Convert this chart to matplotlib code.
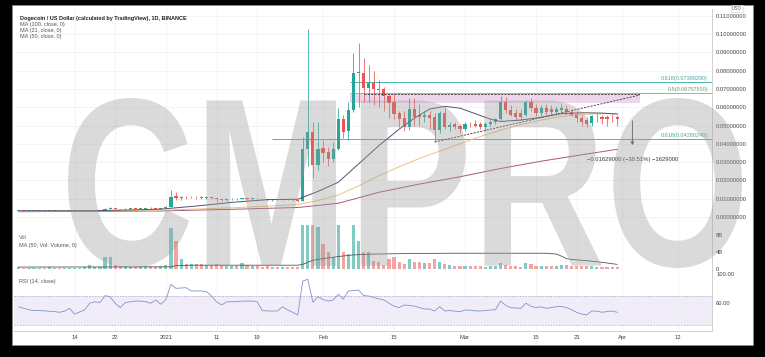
import matplotlib
matplotlib.use("Agg")
import matplotlib.pyplot as plt
from matplotlib.patches import Rectangle, PathPatch
from matplotlib.textpath import TextPath
from matplotlib.font_manager import FontProperties
from matplotlib.transforms import Affine2D

plt.rcParams['font.family'] = ['Liberation Sans', 'DejaVu Sans']

# daily candles, day 0 = 3 Dec 2020 ... day 118 = 31 Mar 2021
opens = [
    .0034, .0034, .0033, .0034, .0034, .0034, .0033, .0033, .0033, .0032,   # Dec 3-12
    .0033, .0034, .0034, .0034, .0035, .0038, .0038, .0039, .0045, .0048,   # Dec 13-22
    .0045, .0042, .0045, .0046, .0045, .0046, .0049, .0047, .0046, .0047,   # Dec 23 - Jan 1
    .0057, .0116, .0106, .0110, .0108, .0111, .0109, .0106, .0108, .0103,   # Jan 2-11
    .0096, .0093, .0098, .0101, .0098, .0102, .0100, .0101, .0098, .0097,   # Jan 12-21
    .0092, .0095, .0094, .0096, .0093, .0092, .0087, .0372, .0462, .0284,   # Jan 22-31
    .0377, .0355, .0317, .0372, .0535, .0470, .0585, .0787, .0787, .0705,   # Feb 1-10
    .0732, .0700, .0700, .0660, .0628, .0568, .0540, .0490, .0590, .0557,   # Feb 11-20
    .0546, .0557, .0546, .0475, .0568, .0490, .0508, .0500, .0480, .0508,   # Feb 21 - Mar 2
    .0508, .0508, .0492, .0508, .0520, .0535, .0628, .0585, .0566, .0566,   # Mar 3-12
    .0557, .0628, .0595, .0568, .0595, .0590, .0575, .0585, .0590, .0574,   # Mar 13-22
    .0563, .0540, .0530, .0514, .0546, .0546, .0545, .0546, .0546,          # Mar 23-31
]
highs = [
    .0035, .0035, .0034, .0035, .0035, .0034, .0034, .0034, .0033, .0034,
    .0035, .0035, .0035, .0036, .0040, .0040, .0041, .0050, .0052, .0049,
    .0046, .0047, .0047, .0048, .0049, .0050, .0052, .0049, .0050, .0058,
    .0150, .0135, .0115, .0114, .0114, .0116, .0113, .0111, .0111, .0105,
    .0100, .0100, .0104, .0105, .0104, .0104, .0103, .0104, .0101, .0099,
    .0098, .0098, .0098, .0099, .0096, .0094, .0440, .1030, .0520, .0520,
    .0420, .0380, .0410, .0596, .0560, .0630, .0896, .0950, .0870, .0830,
    .0800, .0750, .0710, .0670, .0670, .0580, .0580, .0650, .0650, .0620,
    .0580, .0580, .0570, .0580, .0600, .0520, .0520, .0510, .0520, .0520,
    .0530, .0520, .0520, .0530, .0540, .0660, .0655, .0610, .0590, .0590,
    .0640, .0650, .0620, .0610, .0615, .0610, .0605, .0620, .0610, .0590,
    .0580, .0560, .0545, .0560, .0570, .0560, .0560, .0565, .0555,
]
lows = [
    .0033, .0032, .0032, .0033, .0033, .0032, .0031, .0032, .0031, .0032,
    .0033, .0033, .0033, .0033, .0035, .0036, .0037, .0039, .0043, .0043,
    .0039, .0041, .0043, .0044, .0044, .0045, .0046, .0045, .0045, .0047,
    .0055, .0094, .0095, .0101, .0102, .0101, .0099, .0101, .0096, .0082,
    .0089, .0089, .0095, .0093, .0096, .0097, .0097, .0096, .0092, .0085,
    .0088, .0091, .0091, .0091, .0090, .0084, .0085, .0280, .0213, .0257,
    .0300, .0280, .0300, .0366, .0430, .0420, .0574, .0600, .0630, .0630,
    .0610, .0600, .0580, .0540, .0535, .0490, .0470, .0475, .0500, .0500,
    .0520, .0480, .0410, .0460, .0480, .0470, .0480, .0460, .0470, .0490,
    .0490, .0480, .0470, .0500, .0510, .0530, .0570, .0550, .0530, .0530,
    .0550, .0580, .0550, .0550, .0560, .0560, .0560, .0570, .0560, .0550,
    .0520, .0500, .0490, .0500, .0520, .0510, .0500, .0520, .0500,
]
closes = [
    .0034, .0033, .0034, .0034, .0034, .0033, .0033, .0033, .0032, .0033,
    .0034, .0034, .0034, .0035, .0038, .0038, .0039, .0045, .0048, .0045,
    .0042, .0045, .0046, .0045, .0046, .0049, .0047, .0046, .0047, .0057,
    .0107, .0106, .0110, .0108, .0111, .0109, .0106, .0108, .0103, .0096,
    .0093, .0098, .0101, .0098, .0102, .0100, .0101, .0098, .0097, .0092,
    .0095, .0094, .0096, .0093, .0092, .0087, .0372, .0462, .0284, .0372,
    .0350, .0317, .0372, .0535, .0464, .0585, .0787, .0792, .0705, .0732,
    .0700, .0695, .0660, .0623, .0563, .0535, .0490, .0590, .0546, .0546,
    .0557, .0540, .0475, .0568, .0490, .0505, .0490, .0480, .0508, .0506,
    .0495, .0492, .0508, .0520, .0535, .0628, .0585, .0560, .0548, .0548,
    .0628, .0595, .0568, .0595, .0574, .0575, .0590, .0597, .0575, .0557,
    .0540, .0520, .0508, .0552, .0548, .0535, .0537, .0545, .0535,
]
# volume in billions of DOGE
volumes = [
    0.25, 0.20, 0.15, 0.15, 0.20, 0.20, 0.25, 0.20, 0.20, 0.15,
    0.15, 0.15, 0.20, 0.30, 0.90, 0.40, 0.45, 2.70, 2.70, 0.80,
    0.60, 0.50, 0.45, 0.45, 0.50, 0.55, 0.60, 0.45, 0.50, 0.80,
    9.80, 6.70, 2.40, 1.20, 1.00, 1.10, 1.00, 0.80, 0.90, 1.20,
    0.90, 0.70, 0.60, 0.50, 1.30, 0.80, 0.60, 0.50, 0.40, 0.50,
    0.40, 0.35, 0.35, 0.30, 0.35, 0.40, 12.0, 14.0, 11.0, 10.0,
    5.90, 4.00, 2.70, 10.5, 4.00, 3.50, 11.0, 6.70, 3.90, 4.00,
    1.90, 1.60, 0.80, 2.30, 2.70, 1.50, 1.00, 2.40, 1.50, 1.60,
    1.30, 1.40, 2.30, 1.60, 1.20, 0.90, 0.60, 0.60, 0.70, 0.50,
    0.60, 0.60, 0.40, 0.50, 0.50, 1.30, 0.90, 0.70, 0.60, 0.40,
    1.30, 1.00, 0.70, 0.60, 0.50, 0.50, 0.70, 0.90, 0.80, 0.60,
    0.50, 0.60, 0.60, 0.50, 0.30, 0.40, 0.40, 0.30, 0.30,
]
rsi = [
    55, 53, 51, 50, 50, 49.5, 49, 48.5, 47.5, 49,
    53, 45, 48, 51, 60, 62, 61, 70.5, 69, 60,
    54, 61, 62, 63, 63, 62, 60, 64.5, 58.6, 65,
    86, 80.6, 81, 81.5, 77, 77, 77, 76, 70, 62,
    57.6, 62, 62, 62.2, 63, 63, 63, 62, 50, 49.3,
    49.3, 49.3, 55.3, 50.7, 47.5, 43.8, 90.7, 93, 61.3, 69,
    65, 63, 64.5, 72.3, 65.9, 76.9, 77.5, 78.3, 70.5, 70,
    68, 66, 64.5, 60, 56, 54, 57.6, 57, 56, 54,
    52, 52, 49.3, 55.3, 49.3, 50, 49, 48.4, 50.7, 50.5,
    49.5, 49.3, 50, 50.7, 51, 63.1, 57, 54, 53.5, 53,
    60, 56, 54, 55, 53, 54, 55.3, 55.5, 54, 51,
    47.5, 45, 43.8, 49.3, 49, 47.5, 48.5, 49.3, 47.5,
]

# moving averages (day index, value)
ma21_day = [0, 14, 21, 28, 35, 42, 49, 55, 59, 63, 67, 71, 75, 78, 81, 84, 87, 90, 93, 95, 99, 103, 107, 111, 115, 118]
ma21_val = [.0034, .0034, .0038, .0043, .0060, .0080, .0095, .0097, .0140, .0190, .0290, .0390, .0480, .0540, .0590,
            .0605, .0595, .0565, .0535, .0522, .0530, .0545, .0565, .0570, .0568, .0563]
ma50_day = [0, 28, 42, 55, 59, 63, 67, 71, 75, 79, 83, 87, 91, 95, 99, 103, 107, 111, 115, 118]
ma50_val = [.0031, .0037, .0050, .0068, .0090, .0120, .0170, .0225, .0275, .0320, .0360, .0400, .0440, .0475, .0505,
            .0530, .0550, .0560, .0565, .0566]
ma100_day = [0, 28, 42, 55, 63, 71, 79, 87, 95, 103, 111, 118]
ma100_val = [.0029, .0033, .0042, .0052, .0075, .0135, .0180, .0220, .0265, .0305, .0340, .0370]
volma_day = [0, 30, 31, 34, 55, 56, 57, 58, 60, 63, 66, 70, 75, 85, 95, 104, 106, 107, 108, 109, 112, 115, 118]
volma_val = [0.35, 0.40, 0.70, 0.80, 0.80, 1.0, 1.5, 2.0, 2.4, 2.9, 3.3, 3.5, 3.6, 3.7, 3.7, 3.7, 3.5, 3.0, 2.4,
             2.2, 1.9, 1.5, 1.0]

fib_levels = [0.07389290, 0.06757500, 0.04280240]
fib_labels = ['0.618(0.07389290)', '0.5(0.06757500)', '0.618(0.04280240)']

tick_days = [11, 19, 29, 39, 47, 60, 74, 88, 102, 110, 119, 130]
tick_labels = ['14', '22', '2021', '11', '19', 'Feb', '15', 'Mar', '15', '23', 'Apr', '12']

UP, DOWN = '#26a69a', '#ef5350'
W, H = 765, 357
fig = plt.figure(figsize=(W / 100, H / 100), dpi=100, facecolor='black')


def pane(x0, y0, x1, y1):
    return fig.add_axes([x0 / W, 1 - y1 / H, (x1 - x0) / W, (y1 - y0) / H])


fig.add_artist(Rectangle((12 / W, 1 - 345 / H), 741 / W, 340 / H, transform=fig.transFigure,
                         facecolor='white', edgecolor='#8a8a8a', lw=0.6, zorder=-1))

ax = pane(14, 9, 712, 225)
axv = pane(14, 225, 712, 271)
axr = pane(14, 271, 712, 331)

days = list(range(len(closes)))
cols = [UP if c >= o else DOWN for o, c in zip(opens, closes)]

for a in (ax, axv, axr):
    a.set_xlim(-0.95, 136.7)
    for s in ('left', 'top'):
        a.spines[s].set_visible(False)
    for s in ('right', 'bottom'):
        a.spines[s].set_color('#c9c9c9')
        a.spines[s].set_linewidth(0.6)
    a.yaxis.tick_right()
    a.tick_params(axis='both', length=0, labelsize=4.2, labelcolor='#444444', pad=3)
    a.set_xticks(tick_days)
    a.grid(True, axis='x', color='#f0f0f0', lw=0.5, zorder=0)
    a.set_axisbelow(True)

# price pane
ax.set_ylim(-0.00437, 0.1137)
ax.set_yticks([i / 100 for i in range(12)])
ax.set_yticklabels(['%.8f' % (i / 100) for i in range(12)])
ax.grid(True, axis='y', color='#f0f0f0', lw=0.5, zorder=0)
ax.set_xticklabels([])

ax.vlines(days, lows, highs, colors=cols, lw=0.55, zorder=3)
bodies = [max(abs(c - o), 0.00028) for o, c in zip(opens, closes)]
ax.bar(days, bodies, bottom=[min(o, c) for o, c in zip(opens, closes)], width=0.62,
       color=cols, lw=0, zorder=4)

ax.plot(ma100_day, ma100_val, color='#a8577e', lw=0.7, zorder=5)
ax.plot(ma50_day, ma50_val, color='#efc27d', lw=0.7, zorder=5)
ax.plot(ma21_day, ma21_val, color='#4f5370', lw=0.7, zorder=5)

# fib levels and pattern drawing
ax.hlines(fib_levels[0], 65.3, 136.7, color='#4db6ac', lw=0.7, zorder=2)
ax.hlines(fib_levels[1], 65.3, 136.7, color='#81c784', lw=0.7, zorder=2)
ax.hlines(fib_levels[2], 50, 136.7, color='#4db6ac', lw=0.7, zorder=2)
for lvl, lab, c in zip(fib_levels, fib_labels, ['#4da69c', '#66a86a', '#4da69c']):
    ax.text(135.9, lvl + 0.0006, lab, ha='right', va='bottom', fontsize=4, color=c, zorder=6)

ax.add_patch(Rectangle((65.3, 0.0622), 57.2, 0.0053, facecolor='#d9a6d6', alpha=0.45, lw=0, zorder=1))
ax.plot([68, 122.5], [0.0670, 0.0670], color='#333333', lw=0.6, ls=(0, (2.5, 1.5)), zorder=5)
ax.plot([82, 122.5], [0.0410, 0.0667], color='#333333', lw=0.6, ls=(0, (2.5, 1.5)), zorder=5)
ax.annotate('', xy=(121, 0.0378), xytext=(121, 0.0541),
            arrowprops=dict(arrowstyle='->', color='#444444', lw=0.6, mutation_scale=5))
ax.text(121, 0.0317, '\u22120.01629000 (\u221230.51%) \u22121629000', ha='center', va='center',
        fontsize=4.2, color='#333333', zorder=6)

# volume pane
axv.set_ylim(-0.606, 10.545)
axv.set_yticks([0, 4, 8])
axv.set_yticklabels(['0', '4B', '8B'])
axv.set_xticklabels([])
vcols = ['#80cbc4' if c == UP else '#f4a3a3' for c in cols]
axv.bar(days, volumes, width=0.62, color=vcols, lw=0, zorder=2)
axv.plot(volma_day, volma_val, color='#555555', lw=0.6, zorder=3)

# RSI pane
axr.set_ylim(21.7, 104.5)
axr.set_yticks([60, 100])
axr.set_yticklabels(['60.00', '100.00'])
axr.axhspan(30, 70, color='#7e57c2', alpha=0.1, lw=0, zorder=0)
axr.axhline(70, color='#a99bc4', lw=0.5, ls=(0, (2, 2)))
axr.axhline(30, color='#a99bc4', lw=0.5, ls=(0, (2, 2)))
axr.plot(days, rsi, color='#7f93cc', lw=0.6, zorder=3)
axr.set_xticklabels(tick_labels)

# legends
fig.text(20 / W, 1 - 18.5 / H, 'Dogecoin / US Dollar (calculated by TradingView), 1D, BINANCE',
         fontsize=4, color='#222222', fontweight='bold', va='center')
for k, s in enumerate(['MA (100, close, 0)', 'MA (21, close, 0)', 'MA (50, close, 0)']):
    fig.text(20 / W, 1 - (24.5 + 6 * k) / H, s, fontsize=4, color='#555555', va='center')
fig.text(19 / W, 1 - 237.5 / H, 'Vol', fontsize=4, color='#555555', va='center')
fig.text(19 / W, 1 - 245 / H, 'MA (50, Vol: Volume, 0)', fontsize=4, color='#555555', va='center')
fig.text(19 / W, 1 - 281 / H, 'RSI (14, close)', fontsize=4, color='#555555', va='center')
fig.text(737 / W, 1 - 8.5 / H, 'USD', fontsize=3.4, color='#666666', va='center', ha='center',
         bbox=dict(boxstyle='square,pad=0.25', fc='white', ec='#cccccc', lw=0.4))

# watermark
tp = TextPath((0, 0), 'CMPRO', size=100, prop=FontProperties(family='Liberation Sans', weight='bold'))
ext = tp.get_extents()
bx0, by0, bx1, by1 = 68, 98, 742, 268
tr = (Affine2D().translate(-ext.x0, -ext.y0)
      .scale((bx1 - bx0) / ext.width / W, (by1 - by0) / ext.height / H)
      .translate(bx0 / W, 1 - by1 / H) + fig.transFigure)
fig.add_artist(PathPatch(tp, transform=tr, facecolor='#9a9a9a', alpha=0.36, lw=0, zorder=5))

fig.savefig('out.png', dpi=100, facecolor='black')
